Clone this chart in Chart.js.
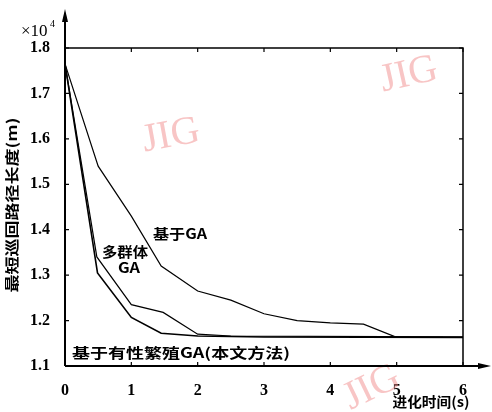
<!DOCTYPE html>
<html>
<head>
<meta charset="utf-8">
<script src="https://cdn.jsdelivr.net/npm/chart.js@4.4.0/dist/chart.umd.min.js"></script>
<style>
    html, body { margin: 0; padding: 0; background: #fff; }
    #wrap { width: 492px; height: 412px; }
</style>
</head>
<body>
<div id="wrap"><canvas id="lengthChart" width="492" height="412"></canvas></div>
<script>
// evolution time (s) and shortest tour length (x10^4 m)
const gaTime = [0, 0.5, 1, 1.45, 2, 2.5, 3, 3.5, 4, 4.5, 5, 5.7];
const gaLength = [1.765, 1.54, 1.43, 1.32, 1.265, 1.245, 1.215, 1.2, 1.195, 1.192, 1.163, 1.163];

const multiTime = [0, 0.48, 1, 1.48, 2, 2.5, 6];
const multiLength = [1.765, 1.34, 1.235, 1.218, 1.17, 1.166, 1.164];

const sexTime = [0, 0.49, 1, 1.45, 2, 3, 6];
const sexLength = [1.765, 1.305, 1.207, 1.172, 1.166, 1.164, 1.163];

const xTicks = [0, 1, 2, 3, 4, 5, 6];
const yTicks = [1.1, 1.2, 1.3, 1.4, 1.5, 1.6, 1.7, 1.8];

const serif = "'Liberation Serif', 'DejaVu Serif', serif";
const cjk = "'Noto Sans CJK SC', sans-serif";

function toPoints(xs, ys) {
    return xs.map((x, i) => ({ x: x, y: ys[i] }));
}

// draw text squeezed/stretched to a given width
function fitText(ctx, text, cx, cy, width, font, angle) {
    ctx.save();
    ctx.font = font;
    const m = ctx.measureText(text).width;
    ctx.translate(cx, cy);
    if (angle) ctx.rotate(angle);
    ctx.scale(width / m, 1);
    ctx.textAlign = "center";
    ctx.textBaseline = "middle";
    ctx.fillText(text, 0, 0);
    ctx.restore();
}

function watermark(ctx, cx, cy, angle) {
    ctx.save();
    ctx.translate(cx, cy);
    ctx.rotate(angle);
    ctx.font = "40px " + serif;
    ctx.fillStyle = "rgba(242, 140, 140, 0.5)";
    ctx.textAlign = "center";
    ctx.textBaseline = "middle";
    ctx.fillText("JIG", 0, 0);
    ctx.restore();
}

const framePlugin = {
    id: "frame",
    beforeDatasetsDraw(chart) {
        const ctx = chart.ctx;
        watermark(ctx, 171, 136, -0.18);
        watermark(ctx, 409, 75, -0.22);
        watermark(ctx, 372, 388, -0.45);
    },
    afterDraw(chart) {
        const ctx = chart.ctx;
        const a = chart.chartArea;
        const xs = chart.scales.x;
        const ys = chart.scales.y;

        ctx.save();
        ctx.strokeStyle = "#000";
        ctx.fillStyle = "#000";

        // top and right border
        ctx.lineWidth = 1.5;
        ctx.beginPath();
        ctx.moveTo(a.left, a.top);
        ctx.lineTo(a.right, a.top);
        ctx.lineTo(a.right, a.bottom);
        ctx.stroke();

        // axes with arrows
        ctx.lineWidth = 2;
        ctx.beginPath();
        ctx.moveTo(a.left, a.bottom);
        ctx.lineTo(a.left, 16);
        ctx.moveTo(a.left, a.bottom);
        ctx.lineTo(484, a.bottom);
        ctx.stroke();
        ctx.beginPath();
        ctx.moveTo(a.left, 9);
        ctx.lineTo(a.left - 3, 22);
        ctx.lineTo(a.left + 3, 22);
        ctx.closePath();
        ctx.fill();
        ctx.beginPath();
        ctx.moveTo(491, a.bottom);
        ctx.lineTo(478, a.bottom - 3);
        ctx.lineTo(478, a.bottom + 3);
        ctx.closePath();
        ctx.fill();

        // inward tick marks on all four sides
        ctx.lineWidth = 1.2;
        ctx.beginPath();
        xTicks.forEach(v => {
            const px = xs.getPixelForValue(v);
            ctx.moveTo(px, a.bottom);
            ctx.lineTo(px, a.bottom - 4);
            ctx.moveTo(px, a.top);
            ctx.lineTo(px, a.top + 4);
        });
        yTicks.forEach(v => {
            const py = ys.getPixelForValue(v);
            ctx.moveTo(a.left, py);
            ctx.lineTo(a.left + 4, py);
            ctx.moveTo(a.right, py);
            ctx.lineTo(a.right - 4, py);
        });
        ctx.stroke();

        // scale factor
        ctx.font = "17px " + serif;
        ctx.textAlign = "left";
        ctx.textBaseline = "alphabetic";
        ctx.fillText("\u00d710", 21, 36);
        ctx.font = "10px " + serif;
        ctx.fillText("4", 50, 27);

        // axis titles
        fitText(ctx, "最短巡回路径长度(m)", 12, 205, 175, "bold 14px " + cjk, -Math.PI / 2);
        fitText(ctx, "进化时间(s)", 431, 402, 77, "bold 14px " + cjk);

        // curve labels
        fitText(ctx, "基于GA", 180, 234, 54, "bold 14px " + cjk);
        fitText(ctx, "多群体", 125, 252, 46, "bold 14px " + cjk);
        fitText(ctx, "GA", 129, 268, 22, "bold 14px " + cjk);
        fitText(ctx, "基于有性繁殖GA(本文方法)", 181, 353, 218, "bold 14px " + cjk);
        ctx.restore();
    }
};

const lineStyle = {
    borderColor: "#000",
    backgroundColor: "#000",
    pointRadius: 0,
    showLine: true,
    tension: 0,
    fill: false
};

const ctx = document.getElementById("lengthChart").getContext("2d");
const chart = new Chart(ctx, {
    type: "scatter",
    data: {
        datasets: [
            Object.assign({ label: "基于GA", data: toPoints(gaTime, gaLength), borderWidth: 1.2 }, lineStyle),
            Object.assign({ label: "多群体GA", data: toPoints(multiTime, multiLength), borderWidth: 1.2 }, lineStyle),
            Object.assign({ label: "基于有性繁殖GA(本文方法)", data: toPoints(sexTime, sexLength), borderWidth: 1.6 }, lineStyle)
        ]
    },
    options: {
        responsive: false,
        animation: false,
        events: [],
        layout: {
            padding: { left: 0, right: 29, top: 48, bottom: 16 }
        },
        plugins: {
            legend: { display: false },
            tooltip: { enabled: false }
        },
        scales: {
            x: {
                type: "linear",
                min: 0,
                max: 6,
                grid: { display: false },
                border: { display: false },
                afterFit: s => { s.height = 30; },
                afterBuildTicks: s => { s.ticks = xTicks.map(v => ({ value: v })); },
                ticks: {
                    color: "#000",
                    padding: 7,
                    maxRotation: 0,
                    font: { family: serif, size: 16, weight: "bold" },
                    callback: v => String(v)
                }
            },
            y: {
                type: "linear",
                min: 1.1,
                max: 1.8,
                grid: { display: false },
                border: { display: false },
                afterFit: s => { s.width = 65; },
                afterBuildTicks: s => { s.ticks = yTicks.map(v => ({ value: v })); },
                ticks: {
                    color: "#000",
                    padding: 7,
                    font: { family: serif, size: 16, weight: "bold" },
                    callback: v => Number(v).toFixed(1)
                }
            }
        }
    },
    plugins: [framePlugin]
});
</script>
</body>
</html>
